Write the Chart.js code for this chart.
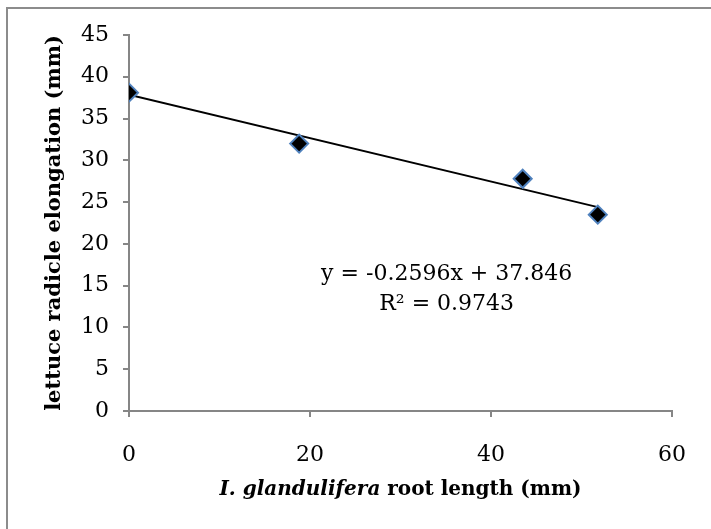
<!DOCTYPE html>
<html>
<head>
<meta charset="utf-8">
<script src="https://cdn.jsdelivr.net/npm/chart.js@4"></script>
<style>
  html, body { margin: 0; padding: 0; background: #fff; overflow: hidden; }
  #wrap { position: relative; width: 711px; height: 529px; }
  #frame {
    position: absolute; left: 6px; top: 7px; width: 740px; height: 560px;
    border-left: 2px solid #8c8c8c; border-top: 2px solid #8c8c8c;
    pointer-events: none;
  }
  canvas { position: absolute; left: 0; top: 0; }
</style>
</head>
<body>
<div id="wrap">
  <canvas id="chart" width="711" height="529"></canvas>
  <div id="frame"></div>
</div>
<script>
// measured points
const rootLength = [0, 18.8, 43.5, 51.8];
const radicleElongation = [38.1, 32.0, 27.8, 23.5];

// linear trendline, ends
const trendX = [0, 51.8];
const trendY = [37.85, 24.40];

const equationLines = ['y = -0.2596x + 37.846', 'R\u00b2 = 0.9743'];

const xTicks = [0, 20, 40, 60];
const yTicks = [0, 5, 10, 15, 20, 25, 30, 35, 40, 45];

// x title comes in two styles: species name in italic
const xTitleItalic = 'I. glandulifera';
const xTitleRest = ' root length (mm)';

const serif = '"DejaVu Serif", "Liberation Serif", serif';
const axisGray = '#868686';

const points = rootLength.map((x, i) => ({ x: x, y: radicleElongation[i] }));
const trend = trendX.map((x, i) => ({ x: x, y: trendY[i] }));

// trendline equation (Excel-style label) + mixed-style x title
const extraText = {
  id: 'extraText',
  afterDraw(chart) {
    const { ctx, scales, chartArea } = chart;
    ctx.save();
    ctx.fillStyle = '#000';
    ctx.textBaseline = 'middle';

    const cx = scales.x.getPixelForValue(35.1);
    const cy = scales.y.getPixelForValue(16.4);
    ctx.font = '22px ' + serif;
    ctx.textAlign = 'center';
    equationLines.forEach((line, i) => ctx.fillText(line, cx, cy + i * 30));

    const italicFont = 'italic bold 20px ' + serif;
    const boldFont = 'bold 20px ' + serif;
    ctx.font = italicFont;
    const w1 = ctx.measureText(xTitleItalic).width;
    ctx.font = boldFont;
    const w2 = ctx.measureText(xTitleRest).width;
    let x = (chartArea.left + chartArea.right) / 2 - (w1 + w2) / 2;
    const y = 490;
    ctx.textAlign = 'left';
    ctx.font = italicFont;
    ctx.fillText(xTitleItalic, x, y);
    ctx.font = boldFont;
    ctx.fillText(xTitleRest, x + w1, y);
    ctx.restore();
  }
};

new Chart(document.getElementById('chart'), {
  type: 'scatter',
  data: {
    datasets: [
      {
        label: 'data',
        data: points,
        pointStyle: 'rectRot',
        pointRadius: 9,
        pointHoverRadius: 9,
        backgroundColor: '#000',
        borderColor: '#4f81bd',
        borderWidth: 2
      },
      {
        type: 'line',
        label: 'trend',
        data: trend,
        borderColor: '#000',
        borderWidth: 2,
        pointRadius: 0,
        fill: false
      }
    ]
  },
  options: {
    responsive: false,
    animation: false,
    layout: { padding: { left: 0, right: 38, top: 35, bottom: 0 } },
    plugins: {
      legend: { display: false },
      tooltip: { enabled: false }
    },
    scales: {
      x: {
        type: 'linear',
        min: 0,
        max: 60,
        afterFit: s => { s.height = 118; },
        afterBuildTicks: s => { s.ticks = xTicks.map(v => ({ value: v })); },
        grid: { drawOnChartArea: false, drawTicks: true, tickLength: 6, color: axisGray, lineWidth: 2 },
        border: { display: true, color: axisGray, width: 2 },
        ticks: { color: '#000', font: { family: serif, size: 22 }, padding: 25 },
        title: { display: false }
      },
      y: {
        type: 'linear',
        min: 0,
        max: 45,
        afterFit: s => { s.width = 129; },
        afterBuildTicks: s => { s.ticks = yTicks.map(v => ({ value: v })); },
        grid: { drawOnChartArea: false, drawTicks: true, tickLength: 6, color: axisGray, lineWidth: 2 },
        border: { display: true, color: axisGray, width: 2 },
        ticks: { color: '#000', font: { family: serif, size: 22 }, padding: 14 },
        title: {
          display: true,
          text: 'lettuce radicle elongation (mm)',
          color: '#000',
          font: { family: serif, size: 21, weight: 'bold' },
          padding: { top: 42, bottom: 0 }
        }
      }
    }
  },
  plugins: [extraText]
});
</script>
</body>
</html>
